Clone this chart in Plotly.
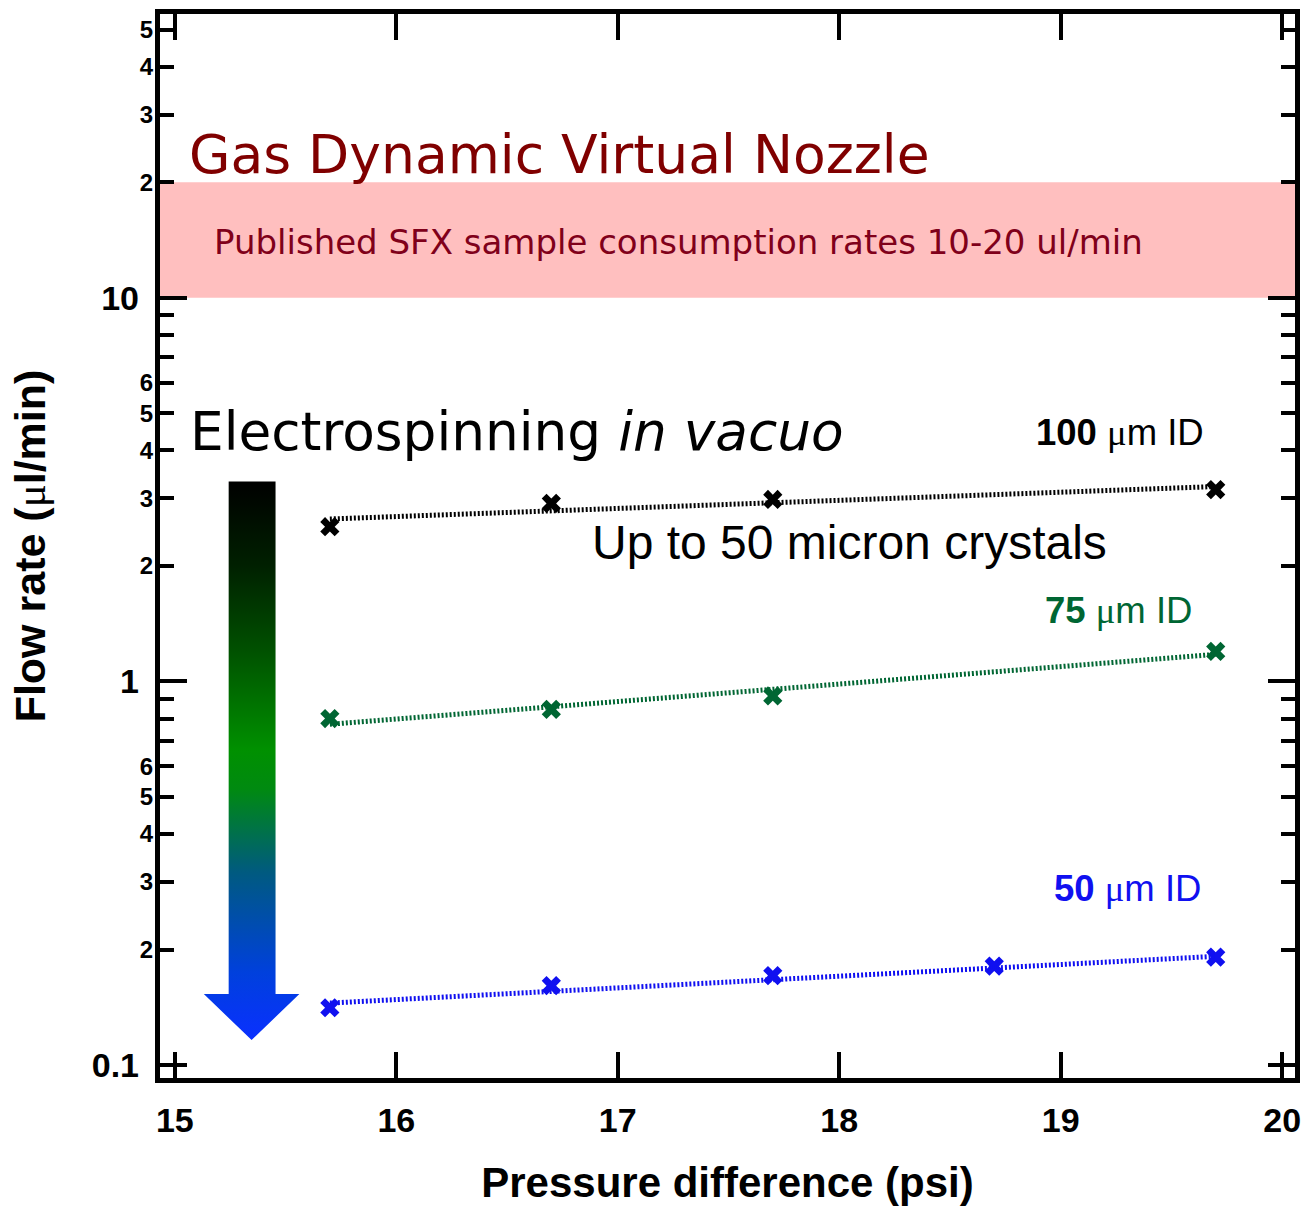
import plotly.graph_objects as go

# Measured flow rates (ul/min) versus pressure difference (psi) per capillary ID
pressure_100 = [15.7, 16.7, 17.7, 19.7]
flow_100 = [2.53, 2.91, 2.98, 3.16]
pressure_75 = [15.7, 16.7, 17.7, 19.7]
flow_75 = [0.80, 0.845, 0.916, 1.197]
pressure_50 = [15.7, 16.7, 17.7, 18.7, 19.7]
flow_50 = [0.141, 0.161, 0.171, 0.181, 0.191]

# Trend-line end points for each capillary
fit_pressure = [15.7, 19.7]
fit_100 = [2.65, 3.22]
fit_75 = [0.773, 1.176]
fit_50 = [0.145, 0.192]

# Published GDVN sample consumption range (ul/min)
gdvn_range = [10, 20]

# Axis ticks
x_ticks = [15, 16, 17, 18, 19, 20]
decade_ticks = [0.1, 1, 10]
decade_labels = ["0.1", "1", "10"]
sub_ticks = [0.2, 0.3, 0.4, 0.5, 0.6, 0.7, 0.8, 0.9,
             2, 3, 4, 5, 6, 7, 8, 9,
             20, 30, 40, 50]
sub_labels = ["2", "3", "4", "5", "6", "", "", "",
              "2", "3", "4", "5", "6", "", "", "",
              "2", "3", "4", "5"]

BLACK = "#000000"
GREEN = "#006633"
BLUE = "#1010f0"
DARK_RED = "#800000"
PINK = "#ffbfbf"

SANS = "Liberation Sans"
VERD = "DejaVu Sans"
MU = '<span style="font-family:Liberation Serif;font-weight:normal">μ</span>'

fig = go.Figure()

# Gradient arrow (in plot-fraction coordinates on hidden overlay axes)
shaft_l, shaft_r = 0.0605, 0.1018
head_l, head_r, tip_x = 0.0386, 0.1228, 0.0807
top_y, head_y, tip_y = 0.5606, 0.0789, 0.0357
arrow_x = [shaft_l, shaft_r, shaft_r, head_r, tip_x, head_l, shaft_l, shaft_l]
arrow_y = [top_y, top_y, head_y, head_y, tip_y, head_y, head_y, top_y]
fig.add_trace(go.Scatter(
    x=arrow_x, y=arrow_y, xaxis="x2", yaxis="y3",
    mode="lines", fill="toself", line=dict(width=0, color="rgba(0,0,0,0)"),
    fillgradient=dict(type="vertical", colorscale=[
        [0.0, "#0a30ff"], [0.12, "#0040dd"], [0.3, "#005a80"],
        [0.45, "#008a10"], [0.52, "#009000"], [0.7, "#005000"],
        [0.85, "#002000"], [1.0, "#000000"]]),
    hoverinfo="skip", showlegend=False))

# Trend lines
for fy, col in [(fit_100, BLACK), (fit_75, GREEN), (fit_50, BLUE)]:
    fig.add_trace(go.Scatter(
        x=fit_pressure, y=fy, yaxis="y2", mode="lines",
        line=dict(color=col, width=5, dash="2px,2px"),
        hoverinfo="skip", showlegend=False))

# Measurements
for px, fy, col in [(pressure_100, flow_100, BLACK),
                    (pressure_75, flow_75, GREEN),
                    (pressure_50, flow_50, BLUE)]:
    fig.add_trace(go.Scatter(
        x=px, y=fy, mode="markers",
        marker=dict(symbol="x", size=17, color=col, line=dict(width=0)),
        showlegend=False))

# Published consumption band
fig.add_shape(type="rect", xref="x domain", x0=0, x1=1, yref="y",
              y0=gdvn_range[0], y1=gdvn_range[1],
              fillcolor=PINK, line=dict(width=0), layer="below")

annotations = [
    dict(text="Gas Dynamic Virtual Nozzle", x=0.0235, y=0.8676, xanchor="left",
         font=dict(family=VERD, size=53.5, color=DARK_RED)),
    dict(text="Published SFX sample consumption rates 10-20 ul/min", x=0.0455, y=0.7859,
         xanchor="left", font=dict(family=VERD, size=34, color="#80001a")),
    dict(text="Electrospinning <i>in vacuo</i>", x=0.0245, y=0.6075, xanchor="left",
         font=dict(family=VERD, size=53.3, color=BLACK)),
    dict(text="Up to 50 micron crystals", x=0.3790, y=0.5033, xanchor="left",
         font=dict(family=SANS, size=48, color=BLACK)),
    dict(text=f"<b>100</b> {MU}m ID", x=0.8456, y=0.6066, xanchor="center",
         font=dict(family=SANS, size=36.5, color=BLACK)),
    dict(text=f"<b>75</b> {MU}m ID", x=0.8447, y=0.4394, xanchor="center",
         font=dict(family=SANS, size=36.5, color=GREEN)),
    dict(text=f"<b>50</b> {MU}m ID", x=0.8526, y=0.1784, xanchor="center",
         font=dict(family=SANS, size=36.5, color=BLUE)),
]
for a in annotations:
    a.update(xref="paper", yref="paper", yanchor="middle", showarrow=False)

y_range = [-1.0339, 1.7396]

fig.update_layout(
    width=1306, height=1206,
    margin=dict(l=160, r=6, t=14, b=127),
    paper_bgcolor="white", plot_bgcolor="white",
    annotations=annotations,
    xaxis=dict(
        range=[14.933, 20.058], tickvals=x_ticks,
        ticks="inside", ticklen=26, tickwidth=4, tickcolor=BLACK,
        showline=True, linewidth=5, linecolor=BLACK, mirror="ticks",
        showgrid=False, zeroline=False,
        tickfont=dict(family=SANS, size=34, color=BLACK, weight="bold"),
        ticklabelstandoff=8,
        title=dict(text="Pressure difference (psi)", standoff=32,
                   font=dict(family=SANS, size=42, color=BLACK, weight="bold")),
    ),
    yaxis=dict(
        type="log", range=y_range, tickmode="array",
        tickvals=sub_ticks, ticktext=sub_labels,
        ticks="inside", ticklen=14, tickwidth=4, tickcolor=BLACK,
        showline=True, linewidth=5, linecolor=BLACK, mirror="ticks",
        showgrid=False, zeroline=False,
        tickfont=dict(family=SANS, size=24, color=BLACK, weight="bold"),
        ticklabelstandoff=-3,
        title=dict(text=f"Flow rate ({MU}l/min)", standoff=82,
                   font=dict(family=SANS, size=43, color=BLACK, weight="bold")),
    ),
    yaxis2=dict(
        type="log", range=y_range, overlaying="y", anchor="x", side="left",
        tickmode="array", tickvals=decade_ticks, ticktext=decade_labels,
        ticks="inside", ticklen=27, tickwidth=4, tickcolor=BLACK,
        showline=False, mirror="ticks", showgrid=False, zeroline=False,
        tickfont=dict(family=SANS, size=34, color=BLACK, weight="bold"),
        ticklabelstandoff=20,
    ),
    xaxis2=dict(range=[0, 1], overlaying="x", anchor="y3", visible=False),
    yaxis3=dict(range=[0, 1], overlaying="y", anchor="x2", visible=False),
)

fig.write_html("out.html")
